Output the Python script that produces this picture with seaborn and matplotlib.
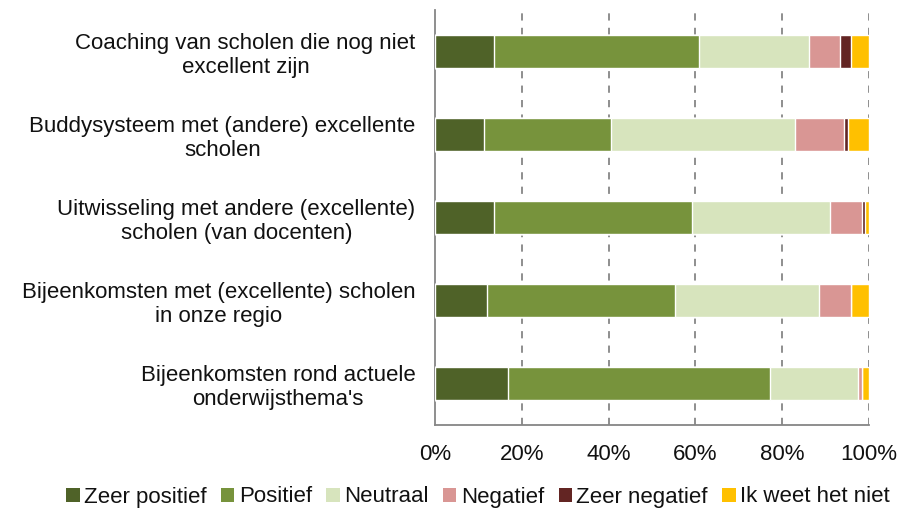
import numpy as np
import pandas as pd
import matplotlib
matplotlib.use("Agg")
import matplotlib.pyplot as plt
import seaborn as sns
from matplotlib.patches import Patch

categories = [
    "Coaching van scholen die nog niet\nexcellent zijn",
    "Buddysysteem met (andere) excellente\nscholen",
    "Uitwisseling met andere (excellente)\nscholen (van docenten)",
    "Bijeenkomsten met (excellente) scholen\nin onze regio",
    "Bijeenkomsten rond actuele\nonderwijsthema's",
]
series_names = ["Zeer positief", "Positief", "Neutraal", "Negatief", "Zeer negatief", "Ik weet het niet"]
zeer_positief = [13.5, 11.3, 13.5, 11.9, 16.8]
positief = [47.4, 29.2, 45.8, 43.3, 60.4]
neutraal = [25.3, 42.4, 31.7, 33.3, 20.3]
negatief = [7.2, 11.4, 7.5, 7.4, 0.9]
zeer_negatief = [2.4, 0.8, 0.5, 0.0, 0.0]
weet_niet = [4.2, 4.9, 1.0, 4.1, 1.6]
colors = ["#4F6228", "#77933C", "#D7E4BD", "#D99694", "#632523", "#FFC000"]
xticks = [0, 20, 40, 60, 80, 100]
xtick_labels = ["0%", "20%", "40%", "60%", "80%", "100%"]

sns.set_style("white")
plt.rcParams["font.family"] = ["Liberation Sans", "DejaVu Sans"]
plt.rcParams["text.color"] = "#111111"
plt.rcParams["xtick.color"] = "#111111"
plt.rcParams["ytick.color"] = "#111111"

data = [zeer_positief, positief, neutraal, negatief, zeer_negatief, weet_niet]
cum = np.cumsum(np.array(data), axis=0)
cum = cum / cum[-1] * 100

fig = plt.figure(figsize=(9.02, 5.16), dpi=100)
ax = fig.add_axes([435 / 902, 1 - 425 / 516, 434 / 902, 415 / 516])

for i in range(len(series_names) - 1, -1, -1):
    df = pd.DataFrame({"cat": categories, "val": cum[i]})
    sns.barplot(data=df, x="val", y="cat", color=colors[i], orient="h",
                width=0.4, ax=ax, saturation=1, zorder=3)

ax.set_xlim(0, 100)
ax.set_ylim(4.5, -0.5)
ax.set_xticks(xticks)
ax.set_xticklabels(xtick_labels, fontsize=16)
ax.set_xlabel("")
ax.set_ylabel("")
ax.set_yticks(range(len(categories)))
ax.set_yticklabels(categories, fontsize=16, ha="right", multialignment="center",
                   linespacing=1.2)
ax.tick_params(axis="y", which="major", length=0, pad=14)

ax.set_yticks(np.arange(-0.5, 5.0, 1.0), minor=True)
ax.tick_params(axis="y", which="minor", length=5, color="#868686", width=1, direction="out")
ax.tick_params(axis="x", length=5, color="#868686", width=1, direction="out", pad=9,
               labelcolor="#111111")

for x in xticks[1:]:
    ax.axvline(x, color="#868686", linestyle=(0, (4, 4)), linewidth=1.3, zorder=1)

for s in ["top", "right"]:
    ax.spines[s].set_visible(False)
for s in ["left", "bottom"]:
    ax.spines[s].set_color("#868686")
    ax.spines[s].set_linewidth(1.3)

handles = [Patch(facecolor=c, edgecolor="none") for c in colors]
fig.legend(handles, series_names, loc="center", bbox_to_anchor=(478 / 902, 1 - 497 / 516),
           ncol=6, frameon=False, fontsize=16, handlelength=0.6, handleheight=0.6,
           handletextpad=0.2, columnspacing=0.65)

fig.savefig("out.png", dpi=100)
